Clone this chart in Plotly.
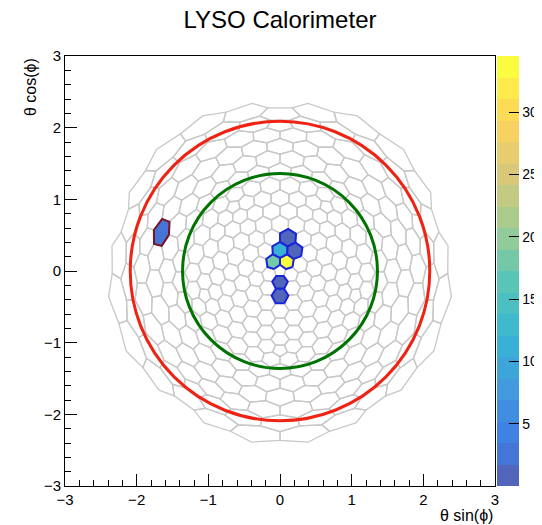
import numpy as np
import plotly.graph_objects as go

# ---------------- data ----------------
hit_x = [0.10, -0.10, 0.00, 0.22, 0.11, 0.00, 0.00, -1.65]
hit_y = [0.14, 0.14, 0.31, 0.29, 0.48, -0.15, -0.35, 0.53]
hit_energy = [34.0, 18.0, 11.0, 1.0, 1.0, 1.0, 1.0, 2.6]
hit_cluster = [0, 0, 0, 0, 0, 0, 0, 1]
cluster_line_colors = ["rgb(25,35,215)", "rgb(120,20,35)"]

circle_radii = [1.36, 2.09]
circle_colors = ["rgb(0,115,0)", "rgb(238,35,20)"]

z_min, z_max = 0.0, 34.5
n_levels = 20
colorbar_ticks = [5, 10, 15, 20, 25, 30]
axis_range = [-3, 3]

geodesic_frequency = 6      # crystals on a geodesic sphere
theta_cut = 2.30            # acceptance (rad) of the crystal centres

# ---------------- palette (ROOT kBird, semi transparent) ----------------
bird_stops = [0.0, 0.125, 0.25, 0.375, 0.5, 0.625, 0.75, 0.875, 1.0]
bird_r = [0.2082, 0.0592, 0.0780, 0.0232, 0.1802, 0.5301, 0.8186, 0.9956, 0.9764]
bird_g = [0.1664, 0.3599, 0.5041, 0.6419, 0.7178, 0.7492, 0.7328, 0.7862, 0.9832]
bird_b = [0.5293, 0.8684, 0.8385, 0.7914, 0.6425, 0.4662, 0.3499, 0.1968, 0.0539]
alpha = 0.8


def bird(t):
    rgb = [np.interp(t, bird_stops, c) for c in (bird_r, bird_g, bird_b)]
    rgb = [alpha * c + (1 - alpha) for c in rgb]
    return "rgb(%d,%d,%d)" % tuple(int(round(255 * c)) for c in rgb)


band_colors = [bird((i + 1) / n_levels) for i in range(n_levels)]
colorscale = []
for i, c in enumerate(band_colors):
    colorscale.append([i / n_levels, c])
    colorscale.append([(i + 1) / n_levels, c])


def value_color(v):
    i = int((v - z_min) / (z_max - z_min) * n_levels)
    return band_colors[max(0, min(n_levels - 1, i))]


# ---------------- geometry: Goldberg cells of a geodesic sphere ----------------
def build_cells(freq):
    s5 = 1 / np.sqrt(5)
    top = np.array([0, 0, 1.0])
    bot = np.array([0, 0, -1.0])
    up = [np.array([2 * s5 * np.cos(a), 2 * s5 * np.sin(a), s5])
          for a in np.radians(-90 + 72 * np.arange(5))]
    lo = [np.array([2 * s5 * np.cos(a), 2 * s5 * np.sin(a), -s5])
          for a in np.radians(-90 + 36 + 72 * np.arange(5))]
    faces = []
    for i in range(5):
        j = (i + 1) % 5
        faces += [(top, up[i], up[j]), (up[i], lo[i], up[j]),
                  (lo[i], lo[j], up[j]), (bot, lo[j], lo[i])]
    verts = []

    def vid(p):
        p = p / np.linalg.norm(p)
        if verts:
            d = np.linalg.norm(np.array(verts) - p, axis=1)
            k = int(np.argmin(d))
            if d[k] < 1e-6:
                return k
        verts.append(p)
        return len(verts) - 1

    tris = []
    n = freq
    for A, B, C in faces:
        P = {}
        for i in range(n + 1):
            for j in range(n + 1 - i):
                P[(i, j)] = vid((i * A + j * B + (n - i - j) * C) / n)
        for i in range(n):
            for j in range(n - i):
                tris.append((P[(i, j)], P[(i + 1, j)], P[(i, j + 1)]))
                if i + j <= n - 2:
                    tris.append((P[(i + 1, j)], P[(i + 1, j + 1)], P[(i, j + 1)]))
    verts = np.array(verts)
    corners = [[] for _ in verts]
    for t in tris:
        c = verts[list(t)].sum(axis=0)
        c = c / np.linalg.norm(c)
        for k in t:
            corners[k].append(c)
    cells = []
    for k, v in enumerate(verts):
        ref = np.array([1.0, 0, 0]) if abs(v[0]) < 0.9 else np.array([0, 1.0, 0])
        e1 = np.cross(v, ref)
        e1 /= np.linalg.norm(e1)
        e2 = np.cross(v, e1)
        cs = np.array(corners[k])
        ang = np.arctan2(cs @ e2, cs @ e1)
        cells.append(cs[np.argsort(ang)])
    return verts, cells


def project(p):
    th = np.arccos(np.clip(p[..., 2], -1, 1))
    az = np.arctan2(p[..., 1], p[..., 0])
    return th * np.cos(az), th * np.sin(az)


centres, cells = build_cells(geodesic_frequency)
centre_theta = np.arccos(np.clip(centres[:, 2], -1, 1))
shown = np.where(centre_theta < theta_cut)[0]

grid_x, grid_y = [], []
for k in shown:
    px, py = project(cells[k])
    grid_x += list(px) + [px[0], None]
    grid_y += list(py) + [py[0], None]


def cell_of(x, y):
    th = np.hypot(x, y)
    az = np.arctan2(y, x)
    p = np.array([np.sin(th) * np.cos(az), np.sin(th) * np.sin(az), np.cos(th)])
    return int(np.argmax(centres @ p))


# ---------------- figure ----------------
fig = go.Figure()
fig.add_trace(go.Scatter(x=grid_x, y=grid_y, mode="lines",
                         line=dict(color="rgb(200,200,200)", width=1.3),
                         hoverinfo="skip", showlegend=False))

for hx, hy, e, cl in zip(hit_x, hit_y, hit_energy, hit_cluster):
    k = cell_of(hx, hy)
    px, py = project(cells[k])
    fig.add_trace(go.Scatter(x=list(px) + [px[0]], y=list(py) + [py[0]],
                             mode="lines", fill="toself",
                             fillcolor=value_color(e),
                             line=dict(color=cluster_line_colors[cl], width=2),
                             hovertext="E = %.1f" % e, hoverinfo="text",
                             showlegend=False))

# colour scale
fig.add_trace(go.Scatter(
    x=[hit_x[0]], y=[hit_y[0]], mode="markers", hoverinfo="skip", showlegend=False,
    marker=dict(size=0.1, opacity=0, color=[hit_energy[0]], cmin=z_min, cmax=z_max,
                colorscale=colorscale, showscale=True,
                colorbar=dict(x=(497 - 65) / 430, xanchor="left", y=0.5, yanchor="middle",
                              len=1, lenmode="fraction", thickness=22,
                              thicknessmode="pixels", outlinewidth=0, xpad=0, ypad=0,
                              ticks="inside", ticklen=10, tickwidth=1, tickcolor="black",
                              tickvals=colorbar_ticks,
                              tickfont=dict(size=14, color="black")))))

for r, c in zip(circle_radii, circle_colors):
    fig.add_shape(type="circle", xref="x", yref="y", x0=-r, x1=r, y0=-r, y1=r,
                  line=dict(color=c, width=3))

axis_common = dict(range=axis_range, showgrid=False, zeroline=False,
                   showline=True, linecolor="black", linewidth=1, mirror=True,
                   ticks="inside", ticklen=12, tickwidth=1, tickcolor="black",
                   dtick=1, tick0=0, tickfont=dict(size=15, color="black"),
                   minor=dict(ticks="inside", ticklen=6, dtick=0.2,
                              tickcolor="black", tickwidth=1))
fig.update_xaxes(**axis_common)
fig.update_yaxes(**axis_common)

# the page body adds an 8 px offset, so the figure is 534 x 517
fig.update_layout(
    width=534, height=517,
    margin=dict(l=57, r=47, t=48, b=39, autoexpand=False),
    paper_bgcolor="white", plot_bgcolor="white",
    font=dict(family="Liberation Sans, Arial, sans-serif", color="black"),
    title=dict(text="LYSO Calorimeter", x=0.5, xref="paper", xanchor="center",
               y=1 - 3 / 517, yref="container", yanchor="top", pad=dict(t=0),
               font=dict(size=24, color="black")),
    annotations=[
        dict(text="θ sin(ϕ)", xref="paper", yref="paper", x=1, xanchor="right",
             y=-30 / 430, yanchor="middle", showarrow=False, font=dict(size=16)),
        dict(text="θ cos(ϕ)", xref="paper", yref="paper", x=-35 / 430,
             xanchor="center", y=1, yanchor="top", textangle=-90,
             showarrow=False, font=dict(size=16)),
    ],
)

fig.write_html("out.html")
